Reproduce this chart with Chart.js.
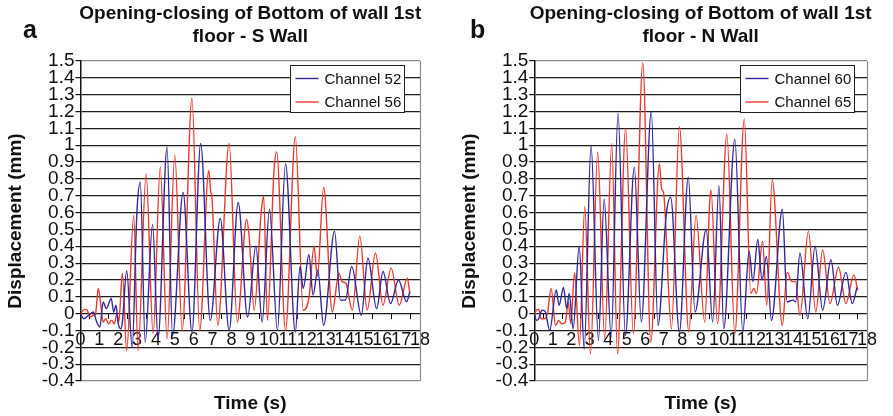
<!DOCTYPE html>
<html>
<head>
<meta charset="utf-8">
<script src="https://cdn.jsdelivr.net/npm/chart.js@4.4.1/dist/chart.umd.min.js"></script>
<style>
  html, body { margin: 0; padding: 0; background: #fff; }
  #wrap { position: relative; width: 893px; height: 416px; overflow: hidden; }
  .panel { position: absolute; top: 0; height: 416px; }
  #pa { left: 0; width: 446px; }
  #pb { left: 446px; width: 447px; }
</style>
</head>
<body>
<div id="wrap">
  <div class="panel" id="pa"><canvas id="ca" width="446" height="416"></canvas></div>
  <div class="panel" id="pb"><canvas id="cb" width="447" height="416"></canvas></div>
</div>
<script>
// Axis ticks shared by both panels
const yTicks = [-0.4, -0.3, -0.2, -0.1, 0, 0.1, 0.2, 0.3, 0.4, 0.5, 0.6, 0.7, 0.8, 0.9, 1, 1.1, 1.2, 1.3, 1.4, 1.5];
const yTickLabels = ['-0.4', '-0.3', '-0.2', '-0.1', '0', '0.1', '0.2', '0.3', '0.4', '0.5', '0.6', '0.7', '0.8', '0.9', '1', '1.1', '1.2', '1.3', '1.4', '1.5'];
const xTicks = [0, 1, 2, 3, 4, 5, 6, 7, 8, 9, 10, 11, 12, 13, 14, 15, 16, 17, 18];
const xTickLabels = ['0', '1', '2', '3', '4', '5', '6', '7', '8', '9', '10', '11', '12', '13', '14', '15', '16', '17', '18'];

// Panel a — S wall, Channel 52
const timeS52 = [0, 0.17, 0.43, 0.68, 0.86, 1.03, 1.20, 1.37, 1.63, 1.76, 1.88, 2.00, 2.14, 2.22, 2.45, 2.74, 2.99, 3.17, 3.43, 3.82,
  4.11, 4.59, 4.88, 5.44, 5.91, 6.37, 6.88, 7.41, 7.88, 8.36, 8.86, 9.30, 9.63, 10.02, 10.44, 10.87, 11.39, 11.64, 11.81, 12.11,
  12.33, 12.58, 12.89, 13.47, 13.78, 14.04, 14.38, 14.89, 15.24, 15.70, 16.04, 16.44, 16.86, 17.29, 17.46];
const dispS52 = [0, -0.03, -0.01, 0.01, -0.05, -0.08, 0.07, 0.03, 0.09, 0.01, 0.05, -0.06, -0.09, -0.05, 0.255, -0.2, 0.6, 0.78, -0.17, 0.53,
  -0.15, 0.99, -0.13, 0.72, -0.11, 1.01, -0.04, 0.565, -0.1, 0.66, -0.02, 0.40, -0.05, 0.62, -0.1, 0.89, -0.11, 0.28, 0.15, 0.35,
  0.11, 0.26, -0.07, 0.49, 0.08, 0.08, 0.28, -0.01, 0.33, 0.03, 0.25, 0.06, 0.2, 0.07, 0.13];

// Panel a — S wall, Channel 56
const timeS56 = [0, 0.21, 0.36, 0.51, 0.68, 0.80, 0.94, 1.08, 1.20, 1.34, 1.49, 1.64, 1.80, 1.93, 2.03, 2.22, 2.45, 2.82, 3.05, 3.48,
  3.85, 4.23, 4.59, 5.00, 5.39, 5.91, 6.32, 6.80, 6.91, 6.96, 7.28, 7.88, 8.31, 8.81, 8.94, 9.21, 9.58, 9.71, 9.91, 10.26,
  10.40, 10.87, 11.39, 11.81, 12.12, 12.38, 12.56, 12.89, 13.35, 13.70, 13.87, 14.07, 14.41, 14.81, 15.20, 15.64, 16.04, 16.47, 16.90, 17.33, 17.46];
const dispS56 = [0, 0.025, 0.02, -0.02, -0.01, 0, 0.15, 0.05, -0.05, -0.03, -0.06, -0.04, -0.06, 0, -0.05, 0.24, -0.22, 0.585, -0.22, 0.83,
  -0.12, 0.87, -0.15, 0.94, -0.1, 1.28, -0.1, 0.85, 0.72, 0.70, -0.07, 1.01, -0.05, 0.56, 0.46, 0.02, 0.6, 0.70, -0.04, 0.85,
  0.96, -0.1, 1.05, 0.02, 0.1, 0.40, 0.22, 0.75, 0.01, 0.24, 0.19, 0.18, 0.02, 0.46, 0.02, 0.36, 0.05, 0.27, 0.05, 0.21, 0.12];

// Panel b — N wall, Channel 60
const timeN60 = [0, 0.12, 0.24, 0.35, 0.47, 0.60, 0.83, 1.19, 1.34, 1.58, 1.75, 1.89, 2.10, 2.43, 2.70, 3.07, 3.47, 3.78, 4.16, 4.53,
  4.93, 5.41, 5.79, 6.33, 6.69, 7.14, 7.38, 7.85, 8.33, 8.70, 9.30, 9.65, 9.99, 10.25, 10.85, 11.28, 11.62, 11.83, 12.09, 12.32,
  12.56, 12.83, 13.42, 13.68, 13.99, 14.14, 14.37, 14.80, 15.19, 15.60, 16.05, 16.40, 16.86, 17.20, 17.46];
const dispN60 = [0, -0.04, -0.03, 0.01, 0.02, 0.01, -0.1, 0.14, 0.05, 0.155, 0.03, 0.12, -0.09, 0.40, -0.21, 1.0, -0.16, 0.68, -0.14, 1.19,
  -0.13, 0.87, -0.05, 1.2, -0.07, 0.59, 0.69, -0.11, 0.81, 0.01, 0.5, -0.05, 0.76, -0.09, 1.035, -0.11, 0.37, 0.19, 0.44, 0.2,
  0.34, -0.04, 0.62, 0.07, 0.08, 0.07, 0.36, -0.03, 0.40, 0.02, 0.32, 0.05, 0.245, 0.06, 0.155];

// Panel b — N wall, Channel 65
const timeN65 = [0, 0.11, 0.24, 0.37, 0.55, 0.71, 0.91, 1.15, 1.32, 1.48, 1.68, 1.84, 1.97, 2.18, 2.44, 2.73, 3.04, 3.43, 3.81, 4.19,
  4.50, 4.94, 5.36, 5.87, 6.30, 6.77, 6.89, 6.99, 7.42, 7.85, 8.36, 8.75, 9.22, 9.49, 9.56, 9.91, 10.42, 10.85, 11.36, 11.71,
  11.88, 12.02, 12.35, 12.58, 12.87, 13.42, 13.68, 13.94, 14.14, 14.37, 14.83, 15.23, 15.60, 16.00, 16.46, 16.86, 17.29, 17.50];
const dispN65 = [0, 0.02, 0.025, -0.03, -0.03, 0, 0.15, -0.07, -0.04, -0.06, -0.05, 0.07, -0.06, 0.245, -0.19, 0.635, -0.24, 0.96, -0.15, 1.01,
  -0.24, 1.1, -0.12, 1.49, -0.17, 0.89, 0.74, 0.72, -0.09, 1.11, -0.11, 0.585, -0.05, 0.66, 0.735, -0.06, 1.065, -0.12, 1.155, 0.12,
  0.15, 0.12, 0.43, 0.05, 0.795, -0.07, 0.245, 0.19, 0.19, -0.01, 0.49, 0.01, 0.38, 0.06, 0.275, 0.06, 0.23, 0.14];

const FONT = '"Liberation Sans", Arial, Helvetica, sans-serif';
const BLUE = '#33299a';
const RED = '#ea3a2f';

const pairs = (xs, ys) => xs.map((x, i) => ({ x: x, y: ys[i] }));

// Titles, axis captions, right frame edge and the boxed legend
const panelDecor = {
  id: 'panelDecor',
  afterDraw(chart, args, o) {
    const c = chart.ctx;
    const ca = chart.chartArea;
    const cx = (ca.left + ca.right) / 2;
    c.save();
    c.fillStyle = '#111';

    c.textAlign = 'center';
    c.textBaseline = 'middle';
    c.font = 'bold 19px ' + FONT;
    c.fillText(o.title[0], cx, 14);
    c.fillText(o.title[1], cx, 37);

    c.textAlign = 'left';
    c.textBaseline = 'alphabetic';
    c.font = 'bold 25px ' + FONT;
    c.fillText(o.letter, o.letterX, 38);

    c.save();
    c.translate(ca.left - 65, (ca.top + ca.bottom) / 2);
    c.rotate(-Math.PI / 2);
    c.textAlign = 'center';
    c.textBaseline = 'middle';
    c.font = 'bold 19px ' + FONT;
    c.fillText(o.yTitle, 0, 0);
    c.restore();

    c.textAlign = 'center';
    c.textBaseline = 'middle';
    c.font = 'bold 19px ' + FONT;
    c.fillText(o.xTitle, cx, 404);

    // right edge of the plot frame
    const rx = Math.round(ca.right) + 0.5;
    c.strokeStyle = '#8c8c8c';
    c.lineWidth = 1.2;
    c.beginPath();
    c.moveTo(rx, ca.top);
    c.lineTo(rx, ca.bottom);
    c.stroke();

    // legend box
    const bw = 114, bh = 47;
    const bx = Math.round(ca.right - o.legendInset - bw) + 0.5;
    const by = 65.5;
    c.fillStyle = '#fff';
    c.fillRect(bx, by, bw, bh);
    c.strokeStyle = '#222';
    c.lineWidth = 1;
    c.strokeRect(bx, by, bw, bh);
    c.font = '15px ' + FONT;
    c.textAlign = 'left';
    c.textBaseline = 'middle';
    chart.data.datasets.forEach((ds, i) => {
      const ly = by + 13 + i * 23.5;
      c.strokeStyle = ds.borderColor;
      c.lineWidth = 1.4;
      c.beginPath();
      c.moveTo(bx + 5, ly);
      c.lineTo(bx + 28, ly);
      c.stroke();
      c.fillStyle = '#111';
      c.fillText(ds.label, bx + 34, ly + 1);
    });
    c.restore();
  }
};

function makePanel(canvasId, p) {
  return new Chart(document.getElementById(canvasId), {
    type: 'line',
    data: {
      datasets: p.series.map(s => ({
        label: s.label,
        data: pairs(s.t, s.v),
        borderColor: s.color,
        borderWidth: 1.4,
        pointRadius: 0,
        fill: false,
        cubicInterpolationMode: 'monotone',
        xAxisID: 'x',
        yAxisID: 'y'
      }))
    },
    options: {
      responsive: false,
      animation: false,
      events: [],
      layout: { padding: { left: 0, top: 61, right: p.padRight, bottom: 35 } },
      plugins: {
        legend: { display: false },
        tooltip: { enabled: false },
        title: { display: false },
        panelDecor: {
          title: p.title,
          letter: p.letter,
          letterX: p.letterX,
          yTitle: 'Displacement (mm)',
          xTitle: 'Time (s)',
          legendInset: p.legendInset
        }
      },
      scales: {
        y: {
          type: 'linear',
          position: 'left',
          min: -0.4,
          max: 1.5,
          afterFit: s => { s.width = p.axisLeft; },
          afterBuildTicks: s => { s.ticks = yTicks.map(v => ({ value: v })); },
          ticks: {
            callback: (v, i) => yTickLabels[i],
            font: { family: FONT, size: 19 },
            color: '#111',
            padding: 1,
            autoSkip: false
          },
          grid: {
            color: ctx => (ctx.tick && (ctx.tick.value === 1.5 || ctx.tick.value === -0.4)) ? '#8c8c8c' : '#1e1e1e',
            lineWidth: 1.2,
            drawTicks: true,
            tickLength: 5,
            tickColor: '#111'
          },
          border: { display: true, color: '#111', width: 1.5 }
        },
        x: {
          type: 'linear',
          position: { y: 0 },
          min: 0,
          max: 18,
          afterBuildTicks: s => { s.ticks = xTicks.map(v => ({ value: v })); },
          ticks: {
            callback: (v, i) => xTickLabels[i],
            font: { family: FONT, size: 18 },
            color: '#111',
            autoSkip: false,
            maxRotation: 0,
            minRotation: 0,
            padding: 16
          },
          grid: { drawOnChartArea: false, drawTicks: false },
          border: { display: false }
        },
        xm: {
          type: 'linear',
          position: { y: 0 },
          min: 0,
          max: 18,
          afterBuildTicks: s => { s.ticks = xTicks.slice(1).map(v => ({ value: v - 0.5 })); },
          ticks: { display: false },
          grid: { drawOnChartArea: false, drawTicks: true, tickLength: 5, tickColor: '#111', lineWidth: 1 },
          border: { display: false }
        }
      }
    },
    plugins: [panelDecor]
  });
}

makePanel('ca', {
  title: ['Opening-closing of Bottom of wall 1st', 'floor - S Wall'],
  letter: 'a',
  letterX: 23,
  axisLeft: 80.5,
  padRight: 15,
  legendInset: 16,
  series: [
    { label: 'Channel 52', t: timeS52, v: dispS52, color: BLUE },
    { label: 'Channel 56', t: timeS56, v: dispS56, color: RED }
  ]
});

makePanel('cb', {
  title: ['Opening-closing of Bottom of wall 1st', 'floor - N Wall'],
  letter: 'b',
  letterX: 24,
  axisLeft: 88.3,
  padRight: 10,
  legendInset: 13,
  series: [
    { label: 'Channel 60', t: timeN60, v: dispN60, color: BLUE },
    { label: 'Channel 65', t: timeN65, v: dispN65, color: RED }
  ]
});
</script>
</body>
</html>
